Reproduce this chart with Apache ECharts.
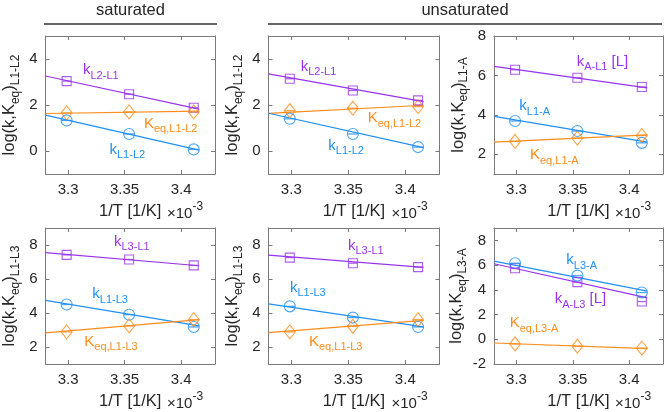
<!DOCTYPE html>
<html><head><meta charset="utf-8">
<script src="https://cdn.jsdelivr.net/npm/echarts@6/dist/echarts.min.js"></script>
<style>html,body{margin:0;padding:0;background:#fff}#c{width:668px;height:412px}</style>
</head><body><div id="c"></div>
<script>
// x values: 1/T in units of 1e-3 1/K (30, 25, 20 degC)
const invT = [3.2987, 3.3540, 3.4112];
const fitX = [3.28, 3.416];
const xTicks = [3.3, 3.35, 3.4];

// saturated, L1-L2
const sat12_kL2L1 = [3.04, 2.47, 1.88], sat12_kL2L1_fit = [3.26, 1.82];
const sat12_Keq   = [1.66, 1.70, 1.70], sat12_Keq_fit   = [1.63, 1.73];
const sat12_kL1L2 = [1.33, 0.74, 0.07], sat12_kL1L2_fit = [1.56, 0.04];
// unsaturated, L1-L2
const uns12_kL2L1 = [3.14, 2.63, 2.20], uns12_kL2L1_fit = [3.35, 2.15];
const uns12_Keq   = [1.75, 1.86, 1.93], uns12_Keq_fit   = [1.64, 1.99];
const uns12_kL1L2 = [1.40, 0.74, 0.17], uns12_kL1L2_fit = [1.64, 0.15];
// unsaturated, L1-A
const uns1A_kAL1 = [6.29, 5.88, 5.41], uns1A_kAL1_fit = [6.46, 5.37];
const uns1A_kL1A = [3.69, 3.18, 2.58], uns1A_kL1A_fit = [3.92, 2.62];
const uns1A_Keq  = [2.65, 2.82, 2.95], uns1A_Keq_fit  = [2.62, 2.98];
// saturated, L1-L3
const sat13_kL3L1 = [7.42, 7.15, 6.80], sat13_kL3L1_fit = [7.55, 6.78];
const sat13_kL1L3 = [4.50, 3.90, 3.18], sat13_kL1L3_fit = [4.74, 3.24];
const sat13_Keq   = [2.89, 3.24, 3.61], sat13_Keq_fit   = [2.83, 3.61];
// unsaturated, L1-L3
const uns13_kL3L1 = [7.26, 6.93, 6.70], uns13_kL3L1_fit = [7.40, 6.68];
const uns13_kL1L3 = [4.39, 3.73, 3.18], uns13_kL1L3_fit = [4.54, 3.18];
const uns13_Keq   = [2.89, 3.22, 3.61], uns13_Keq_fit   = [2.85, 3.57];
// unsaturated, L3-A
const uns3A_kL3A = [6.15, 5.15, 3.78], uns3A_kL3A_fit = [6.32, 3.89];
const uns3A_kAL3 = [5.75, 4.62, 3.05], uns3A_kAL3_fit = [6.11, 3.35];
const uns3A_Keq  = [-0.38, -0.56, -0.72], uns3A_Keq_fit = [-0.30, -0.76];

const yTicksA = [0, 2, 4];
const yTicksB = [2, 4, 6, 8];
const yTicksC = [-2, 0, 2, 4, 6, 8];

const PURPLE = '#9933ee', BLUE = '#2090f2', ORANGE = '#ff8c1a';
const FONT = '"Liberation Sans", Arial, Helvetica, sans-serif';
const AXC = '#7a7a7a', TXC = '#262626';
const SYM = {rect: [9, 9], diamond: [11, 14], circle: [11, 11]};

const panels = [
  {box: [44, 36, 171, 138], yr: [-1, 5], yt: yTicksA, ysub: 'L1-L2',
   sets: [{v: sat12_kL2L1, f: sat12_kL2L1_fit, c: PURPLE, s: 'rect'},
          {v: sat12_Keq, f: sat12_Keq_fit, c: ORANGE, s: 'diamond'},
          {v: sat12_kL1L2, f: sat12_kL1L2_fit, c: BLUE, s: 'circle'}],
   labels: [{m: 'k', sub: 'L2-L1', c: PURPLE, x: 83, y: 70},
            {m: 'K', sub: 'eq,L1-L2', c: ORANGE, x: 144, y: 123.5},
            {m: 'k', sub: 'L1-L2', c: BLUE, x: 109.5, y: 149.5}]},
  {box: [268.5, 36, 171, 138], yr: [-1, 5], yt: yTicksA, ysub: 'L1-L2',
   sets: [{v: uns12_kL2L1, f: uns12_kL2L1_fit, c: PURPLE, s: 'rect'},
          {v: uns12_Keq, f: uns12_Keq_fit, c: ORANGE, s: 'diamond'},
          {v: uns12_kL1L2, f: uns12_kL1L2_fit, c: BLUE, s: 'circle'}],
   labels: [{m: 'k', sub: 'L2-L1', c: PURPLE, x: 300.7, y: 66.7},
            {m: 'K', sub: 'eq,L1-L2', c: ORANGE, x: 367.7, y: 118.3},
            {m: 'k', sub: 'L1-L2', c: BLUE, x: 328.3, y: 145.7}]},
  {box: [494, 36, 169, 138], yr: [1, 8], yt: yTicksB, ysub: 'L1-A',
   sets: [{v: uns1A_kAL1, f: uns1A_kAL1_fit, c: PURPLE, s: 'rect'},
          {v: uns1A_kL1A, f: uns1A_kL1A_fit, c: BLUE, s: 'circle'},
          {v: uns1A_Keq, f: uns1A_Keq_fit, c: ORANGE, s: 'diamond'}],
   labels: [{m: 'k', sub: 'A-L1', tail: ' [L]', c: PURPLE, x: 576.7, y: 61.7},
            {m: 'k', sub: 'L1-A', c: BLUE, x: 519.3, y: 106},
            {m: 'K', sub: 'eq,L1-A', c: ORANGE, x: 530, y: 155}]},
  {box: [44, 228, 171, 136], yr: [1, 9], yt: yTicksB, ysub: 'L1-L3',
   sets: [{v: sat13_kL3L1, f: sat13_kL3L1_fit, c: PURPLE, s: 'rect'},
          {v: sat13_kL1L3, f: sat13_kL1L3_fit, c: BLUE, s: 'circle'},
          {v: sat13_Keq, f: sat13_Keq_fit, c: ORANGE, s: 'diamond'}],
   labels: [{m: 'k', sub: 'L3-L1', c: PURPLE, x: 114, y: 241.7},
            {m: 'k', sub: 'L1-L3', c: BLUE, x: 92.3, y: 294.3},
            {m: 'K', sub: 'eq,L1-L3', c: ORANGE, x: 84.3, y: 341.7}]},
  {box: [268.5, 228, 171, 136], yr: [1, 9], yt: yTicksB, ysub: 'L1-L3',
   sets: [{v: uns13_kL3L1, f: uns13_kL3L1_fit, c: PURPLE, s: 'rect'},
          {v: uns13_kL1L3, f: uns13_kL1L3_fit, c: BLUE, s: 'circle'},
          {v: uns13_Keq, f: uns13_Keq_fit, c: ORANGE, s: 'diamond'}],
   labels: [{m: 'k', sub: 'L3-L1', c: PURPLE, x: 348, y: 245.7},
            {m: 'k', sub: 'L1-L3', c: BLUE, x: 290, y: 287.7},
            {m: 'K', sub: 'eq,L1-L3', c: ORANGE, x: 309, y: 341.7}]},
  {box: [494, 228, 169, 136], yr: [-2, 9], yt: yTicksC, ysub: 'L3-A',
   sets: [{v: uns3A_kAL3, f: uns3A_kAL3_fit, c: PURPLE, s: 'rect'},
          {v: uns3A_kL3A, f: uns3A_kL3A_fit, c: BLUE, s: 'circle'},
          {v: uns3A_Keq, f: uns3A_Keq_fit, c: ORANGE, s: 'diamond'}],
   labels: [{m: 'k', sub: 'L3-A', c: BLUE, x: 566.3, y: 260},
            {m: 'k', sub: 'A-L3', tail: ' [L]', c: PURPLE, x: 554.7, y: 299},
            {m: 'K', sub: 'eq,L3-A', c: ORANGE, x: 509.7, y: 323.3}]}
];

const grid = [], xAxis = [], yAxis = [], series = [], graphic = [];

function axisCommon(min, max, ticks) {
  return {
    type: 'value', min: min, max: max,
    axisLine: {show: true, onZero: false, lineStyle: {color: AXC, width: 1}},
    axisTick: {show: true, inside: true, length: 4, customValues: ticks, lineStyle: {color: AXC, width: 1}},
    splitLine: {show: false}
  };
}

panels.forEach((p, i) => {
  grid.push({left: p.box[0], top: p.box[1], width: p.box[2], height: p.box[3]});
  const xb = axisCommon(3.28, 3.43, xTicks);
  Object.assign(xb, {gridIndex: i, position: 'bottom',
    axisLabel: {customValues: xTicks, fontSize: 15, color: TXC, fontFamily: FONT, margin: 8,
                formatter: v => String(+(+v).toFixed(2))},
    name: '1/T [1/K]', nameLocation: 'middle', nameGap: 29,
    nameTextStyle: {fontSize: 16.5, color: TXC, fontFamily: FONT}});
  const xt = axisCommon(3.28, 3.43, xTicks);
  Object.assign(xt, {gridIndex: i, position: 'top', axisLabel: {show: false, customValues: xTicks}});
  xAxis.push(xb, xt);
  const yl = axisCommon(p.yr[0], p.yr[1], p.yt);
  Object.assign(yl, {gridIndex: i, position: 'left',
    axisLabel: {customValues: p.yt, fontSize: 15, color: TXC, fontFamily: FONT, margin: 8},
    name: '{m|log(k,K}{s|eq}{m|)}{s|' + p.ysub + '}', nameLocation: 'middle', nameRotate: 90, nameGap: 24,
    nameTextStyle: {rich: {
      m: {fontSize: 16.5, color: TXC, fontFamily: FONT, lineHeight: 24},
      s: {fontSize: 12, color: TXC, fontFamily: FONT, lineHeight: 13, verticalAlign: 'bottom'}}}});
  const yr = axisCommon(p.yr[0], p.yr[1], p.yt);
  Object.assign(yr, {gridIndex: i, position: 'right', axisLabel: {show: false, customValues: p.yt}});
  yAxis.push(yl, yr);

  p.sets.forEach(s => {
    series.push({type: 'line', xAxisIndex: 2 * i, yAxisIndex: 2 * i,
      data: fitX.map((x, k) => [x, s.f[k]]), symbol: 'none', silent: true, z: 2,
      lineStyle: {color: s.c, width: 1.2}});
    series.push({type: 'scatter', xAxisIndex: 2 * i, yAxisIndex: 2 * i,
      data: invT.map((x, k) => [x, s.v[k]]), symbol: s.s, symbolSize: SYM[s.s], z: 3,
      itemStyle: {color: 'rgba(0,0,0,0)', borderColor: s.c, borderWidth: 1.1}});
    series.push({type: 'scatter', xAxisIndex: 2 * i, yAxisIndex: 2 * i,
      data: invT.map((x, k) => [x, s.v[k]]), symbol: 'rect', symbolSize: [SYM[s.s][0] - 1, 1.3], z: 4,
      itemStyle: {color: s.c}});
  });

  p.labels.forEach(l => {
    graphic.push({type: 'text', x: l.x, y: l.y, silent: true, style: {
      text: '{m|' + l.m + '}{s|' + l.sub + '}' + (l.tail ? '{m|' + l.tail + '}' : ''),
      align: 'left', verticalAlign: 'middle',
      rich: {
        m: {fontSize: 15, fontFamily: FONT, fill: l.c, lineHeight: 22},
        s: {fontSize: 11, fontFamily: FONT, fill: l.c, lineHeight: 12, verticalAlign: 'bottom'}}}});
  });

  const bottom = p.box[1] + p.box[3];
  const right = p.box[0] + p.box[2];
  graphic.push({type: 'text', x: right - 48, y: bottom + 40, silent: true, style: {
    text: '{m|×10}{p|-3}', align: 'left', verticalAlign: 'middle',
    rich: {m: {fontSize: 15, fontFamily: FONT, fill: TXC, lineHeight: 26},
           p: {fontSize: 12, fontFamily: FONT, fill: TXC, lineHeight: 12, verticalAlign: 'top'}}}});
});

graphic.push(
  {type: 'text', x: 130.5, y: 10, silent: true, style: {text: 'saturated', align: 'center', verticalAlign: 'middle', font: '16.5px ' + FONT, fill: TXC}},
  {type: 'text', x: 465, y: 10, silent: true, style: {text: 'unsaturated', align: 'center', verticalAlign: 'middle', font: '16.5px ' + FONT, fill: TXC}},
  {type: 'line', silent: true, shape: {x1: 44, y1: 24, x2: 217, y2: 24}, style: {stroke: '#333', lineWidth: 1.5}},
  {type: 'line', silent: true, shape: {x1: 268, y1: 24, x2: 662, y2: 24}, style: {stroke: '#333', lineWidth: 1.5}}
);

const chart = echarts.init(document.getElementById('c'), null, {renderer: 'canvas', width: 668, height: 412});
chart.setOption({animation: false, backgroundColor: '#fff', grid, xAxis, yAxis, series, graphic});
</script></body></html>
